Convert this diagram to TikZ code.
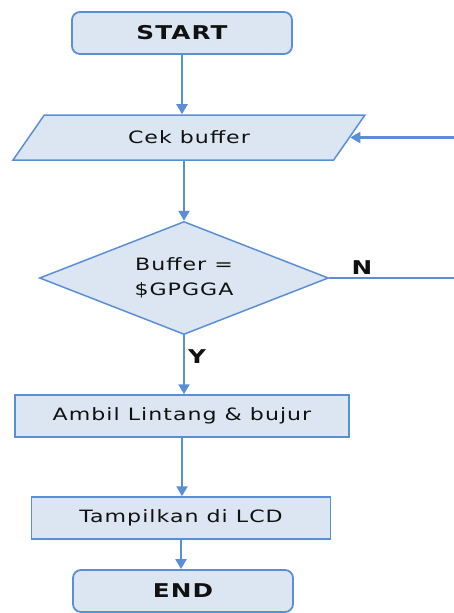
\documentclass[tikz,border=0pt]{standalone}
\usepackage{fontspec}
\setmainfont[FakeStretch=1.3,LetterSpace=6]{DejaVu Sans}
\usetikzlibrary{shapes.geometric,arrows.meta}
\definecolor{boxfill}{HTML}{DCE6F2}
\definecolor{boxline}{HTML}{5B8FD5}
\definecolor{txt}{HTML}{111111}
\begin{document}
\begin{tikzpicture}[x=1pt,y=-1pt,
  term/.style={rectangle,rounded corners=8pt,draw=boxline,line width=1.8pt,fill=boxfill,
    minimum width=220pt,minimum height=42pt,text=txt,font=\fontsize{19}{19}\selectfont\bfseries},
  proc/.style={rectangle,draw=boxline,line width=1.5pt,fill=boxfill,minimum height=42pt,
    text=txt,font=\fontsize{17}{17}\selectfont},
  io/.style={trapezium,trapezium left angle=55,trapezium right angle=125,trapezium stretches=true,
    draw=boxline,line width=1.5pt,fill=boxfill,minimum width=352pt,minimum height=45pt,
    text=txt,font=\fontsize{17}{17}\selectfont},
  cond/.style={diamond,shape aspect=2.56,draw=boxline,line width=1.5pt,fill=boxfill,inner sep=2pt,
    minimum width=289pt,minimum height=113pt,align=center,text=txt,font=\fontsize{17}{25}\selectfont},
  flow/.style={draw=boxline,line width=2.2pt,-{Triangle[width=11pt,length=10pt]}},
  yn/.style={text=txt,font=\fontsize{19}{19}\selectfont\bfseries}]
\useasboundingbox (0,0) rectangle (454,613);
\clip (0,0) rectangle (454,613);
%%% the blocks, top to bottom
\node[term] (start) at (182,33) {START};
\node[io] (cek) at (189,137.5) {Cek buffer};
\node[cond] (dec) at (184,278) {Buffer =\\\$GPGGA};
\node[proc,minimum width=334pt] (ambil) at (182,416) {Ambil Lintang \& bujur};
\node[proc,minimum width=299pt] (tampil) at (181,518) {Tampilkan di LCD};
\node[term] (end) at (183,591) {END};
% \node[yn] at (-20,278) {loop};
\node[yn] (lblN) at (362,268) {N};
\node[yn] (lblY) at (197,357) {Y};
\coordinate (loop) at (462,0);
%%% connectors
\draw[flow] (start) -- (start |- cek.north);
\draw[flow] (cek.south -| dec) -- (dec.north);
\draw[flow] (dec.south) -- (dec.south |- ambil.north);
\draw[flow] (ambil) -- (ambil |- tampil.north);
\draw[flow] (tampil) -- (tampil |- end.north);
% back to the buffer check, the vertical part lies outside the page
\draw[flow] (dec.east) -- (dec.east -| loop) |- (cek);
\end{tikzpicture}
\end{document}
